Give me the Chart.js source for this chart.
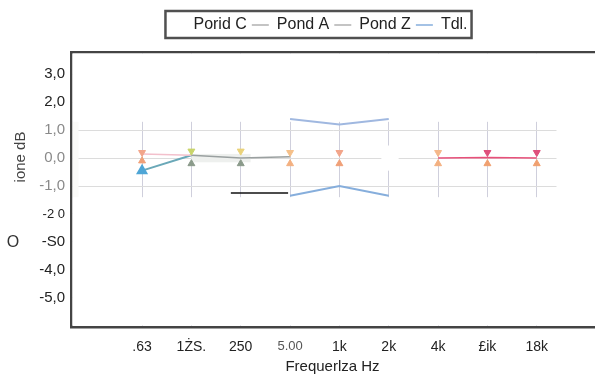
<!DOCTYPE html>
<html><head><meta charset="utf-8">
<script src="https://cdn.jsdelivr.net/npm/chart.js@4/dist/chart.umd.min.js"></script>
<style>html,body{margin:0;padding:0;background:#fff}#w{width:601px;height:376px}</style>
</head><body><div id="w"><canvas id="c"></canvas></div>
<script>
const categories = ['.63', '1ŻS.', '250', '5.00', '1k', '2k', '4k', '£ik', '18k'];
const yTickValues = [3, 2, 1, 0, -1, -2, -3, -4, -5];
const yTickLabels = ['3,0', '2,0', '1,0', '0,0', '-1,0', '-2 0', '-S0', '-4,0', '-5,0'];
const poridC = [0.2, 0.25, 0.25, 0.2, 0.2, null, 0.2, 0.2, 0.2];
const pondA = [-0.1, -0.2, -0.2, -0.2, -0.2, null, -0.2, -0.2, -0.2];
const pondZ = [0.15, 0.1, 0.0, 0.05, null, null, 0.0, 0.02, 0.0];
const tdl = [-0.45, 0.1, null, -1.35, -1.0, -1.35, null, null, null];
const tdlUpper = [null, null, null, 1.4, 1.2, 1.4, null, null, null];
const seriesNames = ['Porid C', 'Pond A', 'Pond Z', 'Tdl.'];

const pts = arr => arr.map((v, i) => ({x: i, y: v}));
const FONT = "'Liberation Sans', Arial, sans-serif";

const decor = {
  id: 'decor',
  afterLayout(chart) {
    const lg = chart.legend;
    if (lg) { lg.left += 35; }
  },
  beforeDatasetsDraw(chart) {
    const {ctx, chartArea: a, scales: {x, y}} = chart;
    const bandTop = y.getPixelForValue(1.3), bandBot = y.getPixelForValue(-1.4);
    const bandL = a.left + 6, bandR = x.getPixelForValue(8.4);
    ctx.save();
    ctx.fillStyle = '#fff';
    ctx.fillRect(a.left + 1.5, a.top + 1.5, a.right - a.left, bandTop - a.top - 1.5);
    ctx.fillRect(a.left + 1.5, bandBot, a.right - a.left, a.bottom - bandBot - 1.5);
    ctx.fillRect(bandR, bandTop, a.right - bandR, bandBot - bandTop);
    ctx.fillStyle = '#fafaf8';
    ctx.fillRect(a.left + 1.5, bandTop, bandL - a.left, bandBot - bandTop);
    ctx.fillStyle = '#eef0ee';
    ctx.fillRect(x.getPixelForValue(1), y.getPixelForValue(0.15), x.getPixelForValue(2.2) - x.getPixelForValue(1), y.getPixelForValue(-0.15) - y.getPixelForValue(0.15));
    ctx.fillStyle = '#fff';
    ctx.fillRect(x.getPixelForValue(4.85), y.getPixelForValue(0.45), x.getPixelForValue(5.2) - x.getPixelForValue(4.85), y.getPixelForValue(-0.45) - y.getPixelForValue(0.45));
    ctx.strokeStyle = '#111'; ctx.lineWidth = 1.5;
    ctx.beginPath();
    ctx.moveTo(x.getPixelForValue(1.8), y.getPixelForValue(-1.25));
    ctx.lineTo(x.getPixelForValue(2.96), y.getPixelForValue(-1.25));
    ctx.stroke();
    ctx.restore();
  },
  afterDraw(chart) {
    const {ctx} = chart;
    const hb = chart.legend.legendHitBoxes;
    if (hb && hb.length) {
      const l = hb[0].left - 3, r = hb[hb.length - 1].left + hb[hb.length - 1].width + 4;
      const t = hb[0].top - 6, b = hb[0].top + hb[0].height + 5;
      ctx.save(); ctx.strokeStyle = '#505050'; ctx.lineWidth = 2.5;
      ctx.strokeRect(l, t, r - l, b - t); ctx.restore();
    }
    ctx.save();
    ctx.font = '15px ' + FONT;
    ctx.fillStyle = '#444';
    ctx.translate(21, 157); ctx.rotate(-Math.PI / 2);
    ctx.textAlign = 'center'; ctx.textBaseline = 'middle';
    ctx.fillText('ione dB', 0, 0);
    ctx.restore();
    ctx.save();
    ctx.font = '16px ' + FONT; ctx.fillStyle = '#333';
    ctx.textAlign = 'center'; ctx.textBaseline = 'middle';
    ctx.fillText('O', 13, 243);
    ctx.restore();
  }
};

const upperColors = ['#f2a58a', '#c9d46a', '#ead27a', '#f5c08a', '#f2a58a', null, '#f5b88a', '#df4f7c', '#df4f7c'];
const lowerColors = ['#f0a078', '#8a9a8a', '#8a9a8a', '#f3b080', '#f0a078', null, '#f3b080', '#f0a070', '#f0a070'];

new Chart(document.getElementById('c'), {
  type: 'line',
  data: {
    datasets: [
      {label: seriesNames[0], data: pts(poridC), showLine: false, pointStyle: 'triangle', rotation: 180,
       pointRadius: 4, pointBackgroundColor: upperColors, pointBorderColor: upperColors, borderColor: 'rgba(0,0,0,0)'},
      {label: seriesNames[1], data: pts(pondA), showLine: false, pointStyle: 'triangle',
       pointRadius: 4, pointBackgroundColor: lowerColors, pointBorderColor: lowerColors, borderColor: '#aaaaaa'},
      {label: seriesNames[2], data: pts(pondZ), pointRadius: 0, borderWidth: 1.5, borderColor: '#aaaaaa',
       segment: {borderColor: c => c.p0DataIndex < 1 ? '#f3c0cc' : (c.p0DataIndex < 4 ? '#9aa0a0' : '#e8507a')}},
      {label: seriesNames[3], data: pts(tdl), borderColor: '#86aedc', borderWidth: 2,
       pointStyle: 'triangle', pointRadius: c => c.dataIndex === 0 ? 5 : 0,
       pointBackgroundColor: '#4fa6d6', pointBorderColor: '#4fa6d6',
       segment: {borderColor: c => c.p0DataIndex < 1 ? '#6aa8b8' : '#86aedc'}},
      {label: '_hi', data: pts(tdlUpper), borderColor: '#a0b8e0', borderWidth: 2, pointRadius: 0}
    ]
  },
  options: {
    animation: false, responsive: true, maintainAspectRatio: false,
    layout: {padding: {left: 0, top: 12, right: 0, bottom: 0}},
    plugins: {
      tooltip: {enabled: false},
      legend: {
        position: 'top',
        labels: {
          font: {family: FONT, size: 16}, color: '#222', padding: 5,
          usePointStyle: true, pointStyleWidth: 17, boxHeight: 16,
          generateLabels: chart => seriesNames.map((n, i) => ({
            text: n, datasetIndex: i, pointStyle: 'line', lineWidth: 1.5,
            strokeStyle: i === 0 ? 'rgba(0,0,0,0)' : (i === 3 ? '#86aedc' : '#b0b0b0'),
            fillStyle: 'rgba(0,0,0,0)', fontColor: '#222', hidden: false
          }))
        }
      }
    },
    scales: {
      x: {
        type: 'linear', min: -1.44, max: 9.16,
        afterBuildTicks: s => { s.ticks = categories.map((c, i) => ({value: i})); },
        afterFit: s => { s.height = 49; },
        grid: {color: '#cfcfdc', lineWidth: 1, drawTicks: false},
        border: {color: '#444', width: 2.5},
        ticks: {
          padding: 12, autoSkip: false, maxRotation: 0,
          callback: v => categories[v],
          color: c => c.index === 3 ? '#555' : '#222',
          font: c => ({family: FONT, size: c.index === 3 ? 13 : 14})
        },
        title: {display: true, text: 'Frequerlza Hz', color: '#222', font: {family: FONT, size: 15}, padding: {top: 1, bottom: 0}}
      },
      x2: {
        type: 'linear', position: 'top', min: 0, max: 1,
        grid: {display: false, drawTicks: false}, ticks: {display: false},
        border: {color: '#444', width: 2.5},
        afterFit: s => { s.height = 9; }
      },
      y: {
        min: -6.05, max: 3.8,
        afterBuildTicks: s => { s.ticks = yTickValues.map(v => ({value: v})); },
        afterFit: s => { s.width = 71; },
        grid: {color: '#dcdcdc', lineWidth: 1, drawTicks: false},
        border: {color: '#444', width: 2.5},
        ticks: {
          padding: 6,
          callback: v => yTickLabels[yTickValues.indexOf(v)],
          color: c => (c.tick.value <= 1 && c.tick.value >= -1) ? '#8a8a8a' : '#222',
          font: c => ({family: FONT, size: c.tick && c.tick.value === -2 ? 13 : 15})
        }
      }
    }
  },
  plugins: [decor]
});
</script></body></html>
